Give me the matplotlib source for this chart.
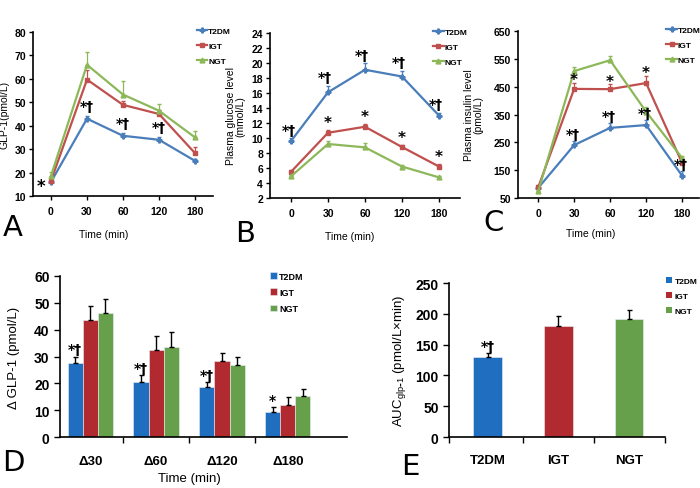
import numpy as np
import matplotlib
matplotlib.use('Agg')
import matplotlib.pyplot as plt

plt.rcParams['font.family'] = ['Liberation Sans', 'DejaVu Sans']
plt.rcParams['font.weight'] = 'bold'
plt.rcParams['axes.linewidth'] = 1.2

# ---- data ----
times = ['0', '30', '60', '120', '180']
groups = ['T2DM', 'IGT', 'NGT']

# A: GLP-1 (pmol/L)
glp_t2dm = [16, 43, 35.7, 34, 25]
glp_igt = [16.5, 59.7, 48.9, 45, 28.3]
glp_ngt = [18.6, 66, 53.3, 46.4, 35]
glp_t2dm_err = [0.8, 1.2, 1.0, 1.0, 1.0]
glp_igt_err = [1.0, 4.0, 1.5, 1.8, 2.7]
glp_ngt_err = [1.7, 5.4, 5.7, 3.0, 2.6]

# B: plasma glucose (mmol/L)
glu_t2dm = [9.6, 16.1, 19.1, 18.2, 13.0]
glu_igt = [5.5, 10.7, 11.5, 8.8, 6.2]
glu_ngt = [4.9, 9.2, 8.75, 6.2, 4.75]
glu_t2dm_err = [0.4, 0.9, 0.9, 0.8, 0.4]
glu_igt_err = [0.3, 0.4, 0.4, 0.3, 0.3]
glu_ngt_err = [0.2, 0.35, 0.6, 0.2, 0.2]

# C: plasma insulin (pmol/L)
ins_t2dm = [86, 240, 302, 312, 130]
ins_igt = [88, 442, 441, 463, 176]
ins_ngt = [74, 506, 545, 360, 194]
ins_t2dm_err = [8, 16, 18, 20, 16]
ins_igt_err = [8, 22, 17, 25, 12]
ins_ngt_err = [6, 14, 15, 16, 8]

# D: delta GLP-1
deltas = ['Δ30', 'Δ60', 'Δ120', 'Δ180']
d_t2dm = [27.5, 20.5, 18.7, 9.3]
d_igt = [43.5, 32.5, 28.5, 12.0]
d_ngt = [46.3, 33.5, 26.8, 15.3]
d_t2dm_err = [2.5, 2.7, 1.8, 2.0]
d_igt_err = [5.5, 5.0, 2.8, 2.8]
d_ngt_err = [5.0, 5.5, 3.0, 2.5]

# E: AUC glp-1
auc = [130, 181, 192]
auc_err = [6, 16, 14]

# significance marks
sig_a = ['*', '*†', '*†', '*†', '']
sig_b_t2dm = ['*†', '*†', '*†', '*†', '*†']
sig_b_igt = ['', '*', '*', '*', '*']
sig_c_t2dm = ['', '*†', '*†', '*†', '*†']
sig_c_igt = ['', '*', '*', '*', '']
sig_d = ['*†', '*†', '*†', '*']

line_cols = ['#4a7ebb', '#c0504d', '#8db85a']
bar_cols = ['#1f6ec0', '#b02a30', '#66a04a']
markers = ['P', 's', '^']

fig = plt.figure(figsize=(7, 4.89), dpi=100)


def px_axes(l, t, r, b):
    return fig.add_axes([l / 700, 1 - b / 489, (r - l) / 700, (b - t) / 489])


def line_panel(ax, series, errs, ylim, yticks, xlim, leg_x):
    x = np.arange(len(times))
    for s, e, c, m, g in zip(series, errs, line_cols, markers, groups):
        ax.errorbar(x, s, yerr=[np.zeros(len(e)), e], fmt='none', ecolor=c,
                    elinewidth=0.9, capsize=1.5)
        ax.plot(x, s, color=c, lw=1.6, marker=m, ms=3.5, label=g)
    ax.set_xlim(*xlim)
    ax.set_ylim(ylim)
    ax.set_yticks(yticks)
    ax.set_xticks(x)
    ax.set_xticklabels(times)
    ax.spines['top'].set_visible(False)
    ax.spines['right'].set_visible(False)
    ax.tick_params(axis='both', labelsize=7.5, length=3, width=1, direction='out')
    ax.tick_params(axis='x', pad=4)
    ax.tick_params(axis='y', pad=2)
    ax.legend(loc='upper left', bbox_to_anchor=(leg_x, 1.05), frameon=False,
              fontsize=6, handlelength=1.3, handletextpad=0.1,
              labelspacing=0.85, borderaxespad=0)


# ---- A ----
axA = px_axes(33, 33, 213, 197)
line_panel(axA, [glp_t2dm, glp_igt, glp_ngt],
           [glp_t2dm_err, glp_igt_err, glp_ngt_err],
           (10, 80), range(10, 81, 10), (-0.5, 4.5), 0.89)
axA.set_ylabel('GLP-1(pmol/L)', fontsize=7.5)
axA.yaxis.set_label_coords(-0.13, 0.5)
axA.set_xlabel('Time (min)', fontsize=7.5)
axA.xaxis.set_label_coords(0.39, -0.2)
for i, s in enumerate(sig_a):
    if not s:
        continue
    if i == 0:
        axA.annotate(s, (i, glp_t2dm[i]), xytext=(-4, -3), textcoords='offset points',
                     ha='right', va='center', fontsize=12, family='DejaVu Sans')
    else:
        axA.annotate(s, (i, glp_t2dm[i]), xytext=(0, 4), textcoords='offset points',
                     ha='center', va='bottom', fontsize=10, family='DejaVu Sans')

# ---- B ----
axB = px_axes(270, 34, 460, 199)
line_panel(axB, [glu_t2dm, glu_igt, glu_ngt],
           [glu_t2dm_err, glu_igt_err, glu_ngt_err],
           (2, 24), range(2, 25, 2), (-0.57, 4.57), 0.84)
axB.set_ylabel('Plasma glucose level\n(mmol/L)', fontsize=7.5, linespacing=0.95)
axB.yaxis.set_label_coords(-0.13, 0.5)
axB.set_xlabel('Time (min)', fontsize=7.5)
axB.xaxis.set_label_coords(0.42, -0.2)
for i in range(len(times)):
    if sig_b_t2dm[i]:
        axB.annotate(sig_b_t2dm[i], (i, glu_t2dm[i] + glu_t2dm_err[i]), xytext=(-2, 1),
                     textcoords='offset points', ha='center', va='bottom',
                     fontsize=10, family='DejaVu Sans')
    if sig_b_igt[i]:
        axB.annotate(sig_b_igt[i], (i, glu_igt[i] + glu_igt_err[i]), xytext=(0, 0),
                     textcoords='offset points', ha='center', va='bottom',
                     fontsize=11, family='DejaVu Sans')

# ---- C ----
axC = px_axes(518, 32, 699, 199)
line_panel(axC, [ins_t2dm, ins_igt, ins_ngt],
           [ins_t2dm_err, ins_igt_err, ins_ngt_err],
           (50, 650), range(50, 651, 100), (-0.56, 4.47), 0.8)
axC.set_ylabel('Plasma insulin level\n(pmol/L)', fontsize=7.5, linespacing=0.95)
axC.yaxis.set_label_coords(-0.19, 0.5)
axC.set_xlabel('Time (min)', fontsize=7.5)
axC.xaxis.set_label_coords(0.40, -0.18)
for i in range(len(times)):
    if sig_c_t2dm[i]:
        axC.annotate(sig_c_t2dm[i], (i, ins_t2dm[i] + ins_t2dm_err[i]), xytext=(-1, 0),
                     textcoords='offset points', ha='center', va='bottom',
                     fontsize=10, family='DejaVu Sans')
    if sig_c_igt[i]:
        axC.annotate(sig_c_igt[i], (i, ins_igt[i] + ins_igt_err[i]), xytext=(0, -3),
                     textcoords='offset points', ha='center', va='bottom',
                     fontsize=11, family='DejaVu Sans')

# ---- D ----
axD = px_axes(60, 277, 347, 438)
xd = np.arange(len(deltas))
w = 0.23
for k, (vals, errs, c, g) in enumerate(zip([d_t2dm, d_igt, d_ngt],
                                           [d_t2dm_err, d_igt_err, d_ngt_err],
                                           bar_cols, groups)):
    axD.bar(xd + (k - 1) * w, vals, w, color=c, edgecolor='#e8eef5', lw=0.4, label=g,
            yerr=[np.zeros(len(errs)), errs], error_kw=dict(ecolor='black', elinewidth=1.0,
                                                            capsize=1.8, capthick=1.0))
for i, s in enumerate(sig_d):
    axD.annotate(s, (xd[i] - w, d_t2dm[i] + d_t2dm_err[i]), xytext=(0, 0),
                 textcoords='offset points', ha='center', va='bottom',
                 fontsize=10, family='DejaVu Sans')
axD.set_xlim(-0.46, 3.9)
axD.set_ylim(0, 60)
axD.set_yticks(range(0, 61, 10))
axD.set_xticks(xd)
axD.set_xticklabels(deltas)
axD.set_xticks(xd[:-1] + 0.5, minor=True)
axD.tick_params(axis='x', which='major', length=0, pad=13, labelsize=9.5)
axD.tick_params(axis='x', which='minor', length=4, width=1)
axD.tick_params(axis='y', labelsize=10, length=4, width=1)
axD.spines['top'].set_visible(False)
axD.spines['right'].set_visible(False)
axD.set_ylabel('Δ GLP-1 (pmol/L)', fontsize=9.5)
axD.yaxis.set_label_coords(-0.14, 0.5)
axD.set_xlabel('Time (min)', fontsize=9.5)
axD.xaxis.set_label_coords(0.45, -0.22)
axD.legend(loc='upper left', bbox_to_anchor=(0.72, 1.05), frameon=False,
           fontsize=6.5, handlelength=0.7, handleheight=0.7, handletextpad=0.3,
           labelspacing=0.8, borderaxespad=0)

# ---- E ----
axE = px_axes(449, 284, 665, 438)
xe = np.arange(len(groups))
axE.bar(xe, auc, 0.41, color=bar_cols, edgecolor='#e8eef5', lw=0.4,
        yerr=[np.zeros(len(auc_err)), auc_err],
        error_kw=dict(ecolor='black', elinewidth=1.0, capsize=1.8, capthick=1.0))
for bar_c, g in zip(bar_cols, groups):
    axE.bar(0, 0, 0, color=bar_c, label=g)
axE.annotate('*†', (0, auc[0] + auc_err[0]), xytext=(0, 0), textcoords='offset points',
             ha='center', va='bottom', fontsize=10, family='DejaVu Sans')
axE.set_xlim(-0.55, 2.51)
axE.set_ylim(0, 250)
axE.set_yticks(range(0, 251, 50))
axE.set_xticks(xe)
axE.set_xticklabels(groups)
axE.set_xticks([-0.55, 0.5, 1.5, 2.51], minor=True)
axE.tick_params(axis='x', which='major', length=0, pad=12, labelsize=9.5)
axE.tick_params(axis='x', which='minor', length=4, width=1)
axE.tick_params(axis='y', labelsize=10, length=4, width=1)
axE.spines['top'].set_visible(False)
axE.spines['right'].set_visible(False)
axE.set_ylabel('AUC$_{\\mathregular{glp\\text{-}1}}$ (pmol/L×min)', fontsize=9.5)
axE.yaxis.set_label_coords(-0.19, 0.5)
axE.legend(loc='upper left', bbox_to_anchor=(0.99, 1.06), frameon=False,
           fontsize=6, handlelength=0.7, handleheight=0.7, handletextpad=0.3,
           labelspacing=0.85, borderaxespad=0)

# panel letters
for letter, x, y in [('A', 13, 228), ('B', 245, 234), ('C', 494, 223),
                     ('D', 13, 463), ('E', 410, 467)]:
    fig.text(x / 700, 1 - y / 489, letter, fontsize=21, fontweight='normal',
             family='DejaVu Sans', ha='center', va='center')

fig.savefig('out.png', dpi=100)
